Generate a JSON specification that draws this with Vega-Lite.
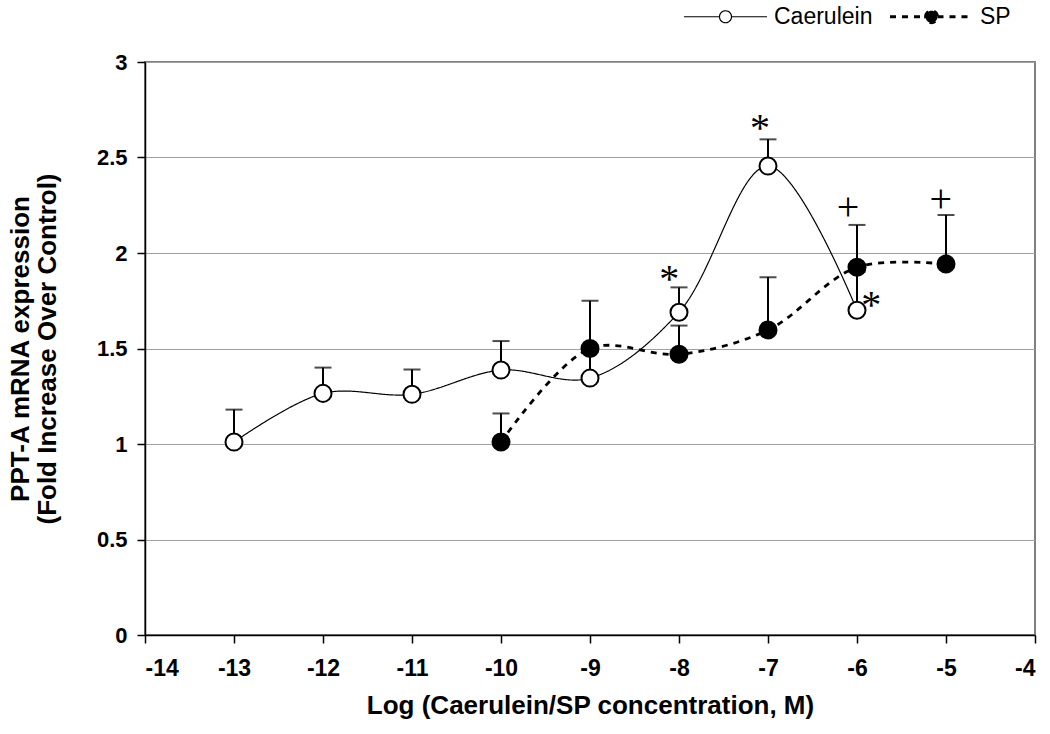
{
  "$schema": "https://vega.github.io/schema/vega-lite/v6.json",
  "width": 890,
  "height": 573,
  "autosize": "none",
  "padding": {"left": 145, "top": 62, "right": 15, "bottom": 99},
  "background": "white",
  "config": {
    "font": "Liberation Sans",
    "view": {"stroke": "#808080", "strokeWidth": 2},
    "axis": {"domainColor": "black", "domainWidth": 1.5, "tickColor": "black", "tickWidth": 1.5, "tickSize": 8, "labelFont": "Liberation Sans", "labelFontWeight": "bold", "labelColor": "black", "titleFont": "Liberation Sans", "titleFontWeight": "bold", "titleColor": "black"}
  },
  "datasets": {
    "pts": [
      {"series": "Caerulein", "logc": -13, "fold": 1.01, "upper": 1.18},
      {"series": "Caerulein", "logc": -12, "fold": 1.265, "upper": 1.40},
      {"series": "Caerulein", "logc": -11, "fold": 1.26, "upper": 1.39},
      {"series": "Caerulein", "logc": -10, "fold": 1.387, "upper": 1.539},
      {"series": "Caerulein", "logc": -9, "fold": 1.345, "upper": 1.48},
      {"series": "Caerulein", "logc": -8, "fold": 1.69, "upper": 1.82},
      {"series": "Caerulein", "logc": -7, "fold": 2.455, "upper": 2.595},
      {"series": "Caerulein", "logc": -6, "fold": 1.70, "upper": 1.90},
      {"series": "SP", "logc": -10, "fold": 1.01, "upper": 1.16},
      {"series": "SP", "logc": -9, "fold": 1.50, "upper": 1.75},
      {"series": "SP", "logc": -8, "fold": 1.47, "upper": 1.62},
      {"series": "SP", "logc": -7, "fold": 1.597, "upper": 1.873},
      {"series": "SP", "logc": -6, "fold": 1.925, "upper": 2.147},
      {"series": "SP", "logc": -5, "fold": 1.942, "upper": 2.199}
    ],
    "marks": [
      {"logc": -8.11, "fold": 1.9, "sym": "*"},
      {"logc": -7.09, "fold": 2.69, "sym": "*"},
      {"logc": -5.84, "fold": 1.764, "sym": "*"},
      {"logc": -6.1, "fold": 2.28, "sym": "+"},
      {"logc": -5.06, "fold": 2.32, "sym": "+"}
    ]
  },
  "data": {"name": "pts"},
  "encoding": {
    "x": {"field": "logc", "type": "quantitative", "scale": {"domain": [-14, -4], "nice": false, "zero": false},
      "axis": {"values": [-14, -13, -12, -11, -10, -9, -8, -7, -6, -5, -4], "labelExpr": "datum.value + ''", "grid": false, "labelFontSize": 23, "labelPadding": 14, "title": "Log (Caerulein/SP concentration, M)", "titleFontSize": 26, "titlePadding": 12}},
    "y": {"field": "fold", "type": "quantitative", "scale": {"domain": [0, 3], "nice": false},
      "axis": {"values": [0, 0.5, 1, 1.5, 2, 2.5, 3], "format": "~g", "grid": true, "gridColor": "#a0a0a0", "gridWidth": 1, "labelFontSize": 22, "labelPadding": 10, "title": ["PPT-A mRNA expression", "(Fold Increase Over Control)"], "titleFontSize": 26, "titleLineHeight": 27, "titlePadding": 36}}
  },
  "layer": [
    {
      "mark": {"type": "line", "interpolate": "catmull-rom", "color": "black"},
      "encoding": {
        "detail": {"field": "series"},
        "strokeWidth": {"field": "series", "type": "nominal", "scale": {"domain": ["Caerulein", "SP"], "range": [1.2, 2.8]}, "legend": null},
        "strokeDash": {"field": "series", "type": "nominal", "scale": {"domain": ["Caerulein", "SP"], "range": [[1, 0], [6, 6]]},
          "legend": {"title": null, "orient": "none", "direction": "horizontal", "legendX": 569, "legendY": -57, "padding": 0,
            "symbolType": "M-4.15,0H-0.6M0.6,0H4.15M-0.6,0A0.6,0.6 0 1,1 0.6,0A0.6,0.6 0 1,1 -0.6,0Z",
            "symbolSize": 400, "symbolStrokeColor": "black", "symbolStrokeWidth": 1.8, "labelOffset": 37, "columnPadding": 11,
            "labelFontSize": 23, "labelColor": "black", "labelFont": "Liberation Sans"}}
      }
    },
    {
      "mark": {"type": "rule", "color": "black", "strokeWidth": 2},
      "encoding": {"y2": {"field": "upper"}}
    },
    {
      "mark": {"type": "tick", "orient": "horizontal", "color": "black", "thickness": 2, "size": 17},
      "encoding": {"y": {"field": "upper", "type": "quantitative"}}
    },
    {
      "mark": {"type": "point", "shape": "circle", "filled": true, "size": 290, "stroke": "black", "strokeWidth": 2, "opacity": 1},
      "encoding": {
        "fill": {"field": "series", "type": "nominal", "scale": {"domain": ["Caerulein", "SP"], "range": ["white", "black"]}, "legend": null}
      }
    },
    {
      "data": {"name": "marks"},
      "mark": {"type": "text", "font": "Liberation Serif", "fontSize": 40, "color": "black", "baseline": "middle", "align": "center", "dy": 8},
      "encoding": {"text": {"field": "sym"}}
    }
  ]
}
